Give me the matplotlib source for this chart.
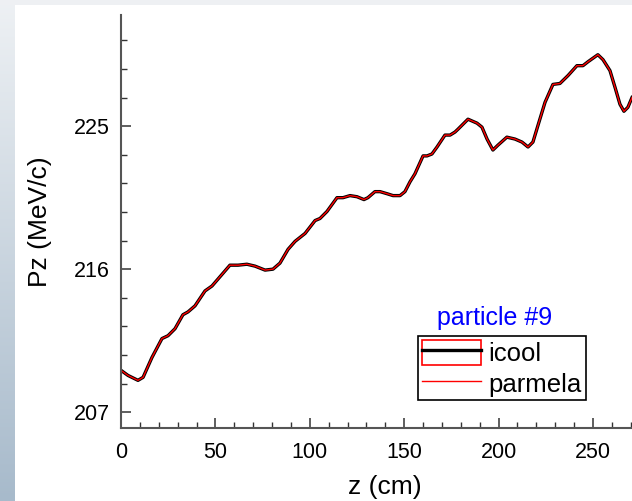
import numpy as np
import matplotlib
matplotlib.use('Agg')
import matplotlib.pyplot as plt
from matplotlib.patches import Rectangle
from matplotlib.lines import Line2D
from matplotlib.legend_handler import HandlerTuple
from matplotlib.ticker import MultipleLocator

plt.rcParams['font.family'] = ['Liberation Sans', 'DejaVu Sans']

# z (cm) and Pz (MeV/c)
z = [0, 3.7, 9.0, 11.7, 16.4, 21.7, 24.9, 28.6, 32.8, 35.5, 39.2, 44.5, 48.2, 51.4,
     57.7, 62.0, 66.7, 71.0, 76.3, 80.5, 84.2, 88.5, 92.2, 97.5, 102.8, 105.4, 109.1,
     114.4, 117.6, 121.3, 125.0, 128.7, 130.8, 134.5, 137.2, 140.9, 144.1, 147.8,
     150.4, 153.1, 155.7, 160.0, 162.1, 164.7, 167.4, 171.6, 174.3, 176.9, 178.5,
     183.8, 188.6, 191.2, 193.9, 197.0, 199.7, 204.4, 208.7, 212.4, 215.6, 218.2,
     220.9, 224.6, 228.8, 232.5, 236.8, 241.5, 244.7, 247.4, 252.6, 255.3, 259.0,
     261.7, 264.3, 266.4, 268.5, 270.7]
pz_icool = [209.63, 209.31, 209.0, 209.19, 210.44, 211.63, 211.81, 212.25, 213.13,
            213.31, 213.69, 214.63, 214.94, 215.38, 216.25, 216.25, 216.31, 216.19,
            215.94, 216.0, 216.38, 217.25, 217.75, 218.25, 219.06, 219.19, 219.63,
            220.5, 220.5, 220.63, 220.56, 220.38, 220.5, 220.88, 220.88, 220.75,
            220.63, 220.63, 220.88, 221.5, 222.0, 223.13, 223.13, 223.25, 223.69,
            224.44, 224.44, 224.63, 224.81, 225.44, 225.19, 224.94, 224.19, 223.5,
            223.81, 224.31, 224.19, 224.0, 223.69, 224.0, 225.06, 226.5, 227.63,
            227.69, 228.19, 228.81, 228.81, 229.06, 229.5, 229.19, 228.5, 227.44,
            226.38, 225.94, 226.19, 226.81]
# parmela lies on top of icool
pz_parmela = list(pz_icool)

W, H = 632, 501
fig = plt.figure(figsize=(W / 100, H / 100), dpi=100)
fig.patch.set_facecolor('white')

# background frame: light top strip, gradient left strip
bg = fig.add_axes([0, 0, 1, 1], zorder=-10)
bg.set_axis_off()
bg.add_patch(Rectangle((0, 0), W, 5, color='#eef0f3', lw=0))
grad = np.linspace(0, 1, 256).reshape(-1, 1)
cmap = matplotlib.colors.LinearSegmentedColormap.from_list('g', ['#eef1f4', '#a7bacb'])
bg.imshow(grad, extent=(0, 15, H, 0), cmap=cmap, aspect='auto')
bg.set_xlim(0, W)
bg.set_ylim(H, 0)

ax = fig.add_axes([121 / W, 73 / H, 528.6 / W, 413 / H])
ax.set_facecolor('none')
l1, = ax.plot(z, pz_icool, color='black', lw=2.4, solid_joinstyle='round')
l2, = ax.plot(z, pz_parmela, color='red', lw=1.0, solid_joinstyle='round')

ax.set_xlim(0, 280)
ax.set_ylim(206, 232)
ax.set_yticks([207, 216, 225])
ax.yaxis.set_minor_locator(MultipleLocator(1.8))
ax.xaxis.set_major_locator(MultipleLocator(50))
ax.xaxis.set_minor_locator(MultipleLocator(10))
ax.tick_params(which='both', direction='in', labelsize=15.5, colors='#333333',
               labelcolor='black')
ax.tick_params(which='major', length=7.5, width=1.1)
ax.tick_params(which='minor', length=4, width=1.0)
ax.tick_params(axis='x', pad=10)
ax.tick_params(axis='y', pad=8)
ax.spines['top'].set_visible(False)
ax.spines['right'].set_visible(False)
for s in ('left', 'bottom'):
    ax.spines[s].set_color('#555555')
    ax.spines[s].set_linewidth(1.5)

ax.set_xlabel('z (cm)', fontsize=19, labelpad=9)
ax.set_ylabel('Pz (MeV/c)', fontsize=19, labelpad=16)

ax.text(0.7075, 0.249, 'particle #9', color='blue', fontsize=18,
        transform=ax.transAxes, ha='center', va='baseline')
box = Rectangle((0, 0), 1, 1, facecolor='none', edgecolor='red', lw=1.2)
leg = ax.legend([(box, Line2D([], [], color='black', lw=2.4)), l2], ['icool', 'parmela'],
                handler_map={tuple: HandlerTuple(ndivide=1)},
                loc='upper left', bbox_to_anchor=(0.562, 0.223), fontsize=18.5,
                frameon=True, fancybox=False, edgecolor='black', framealpha=1,
                borderpad=0.15, labelspacing=0.15, handlelength=2.3, handleheight=1.15,
                handletextpad=0.3, borderaxespad=0)
leg.get_frame().set_linewidth(1.2)

fig.savefig('out.png', dpi=100)
